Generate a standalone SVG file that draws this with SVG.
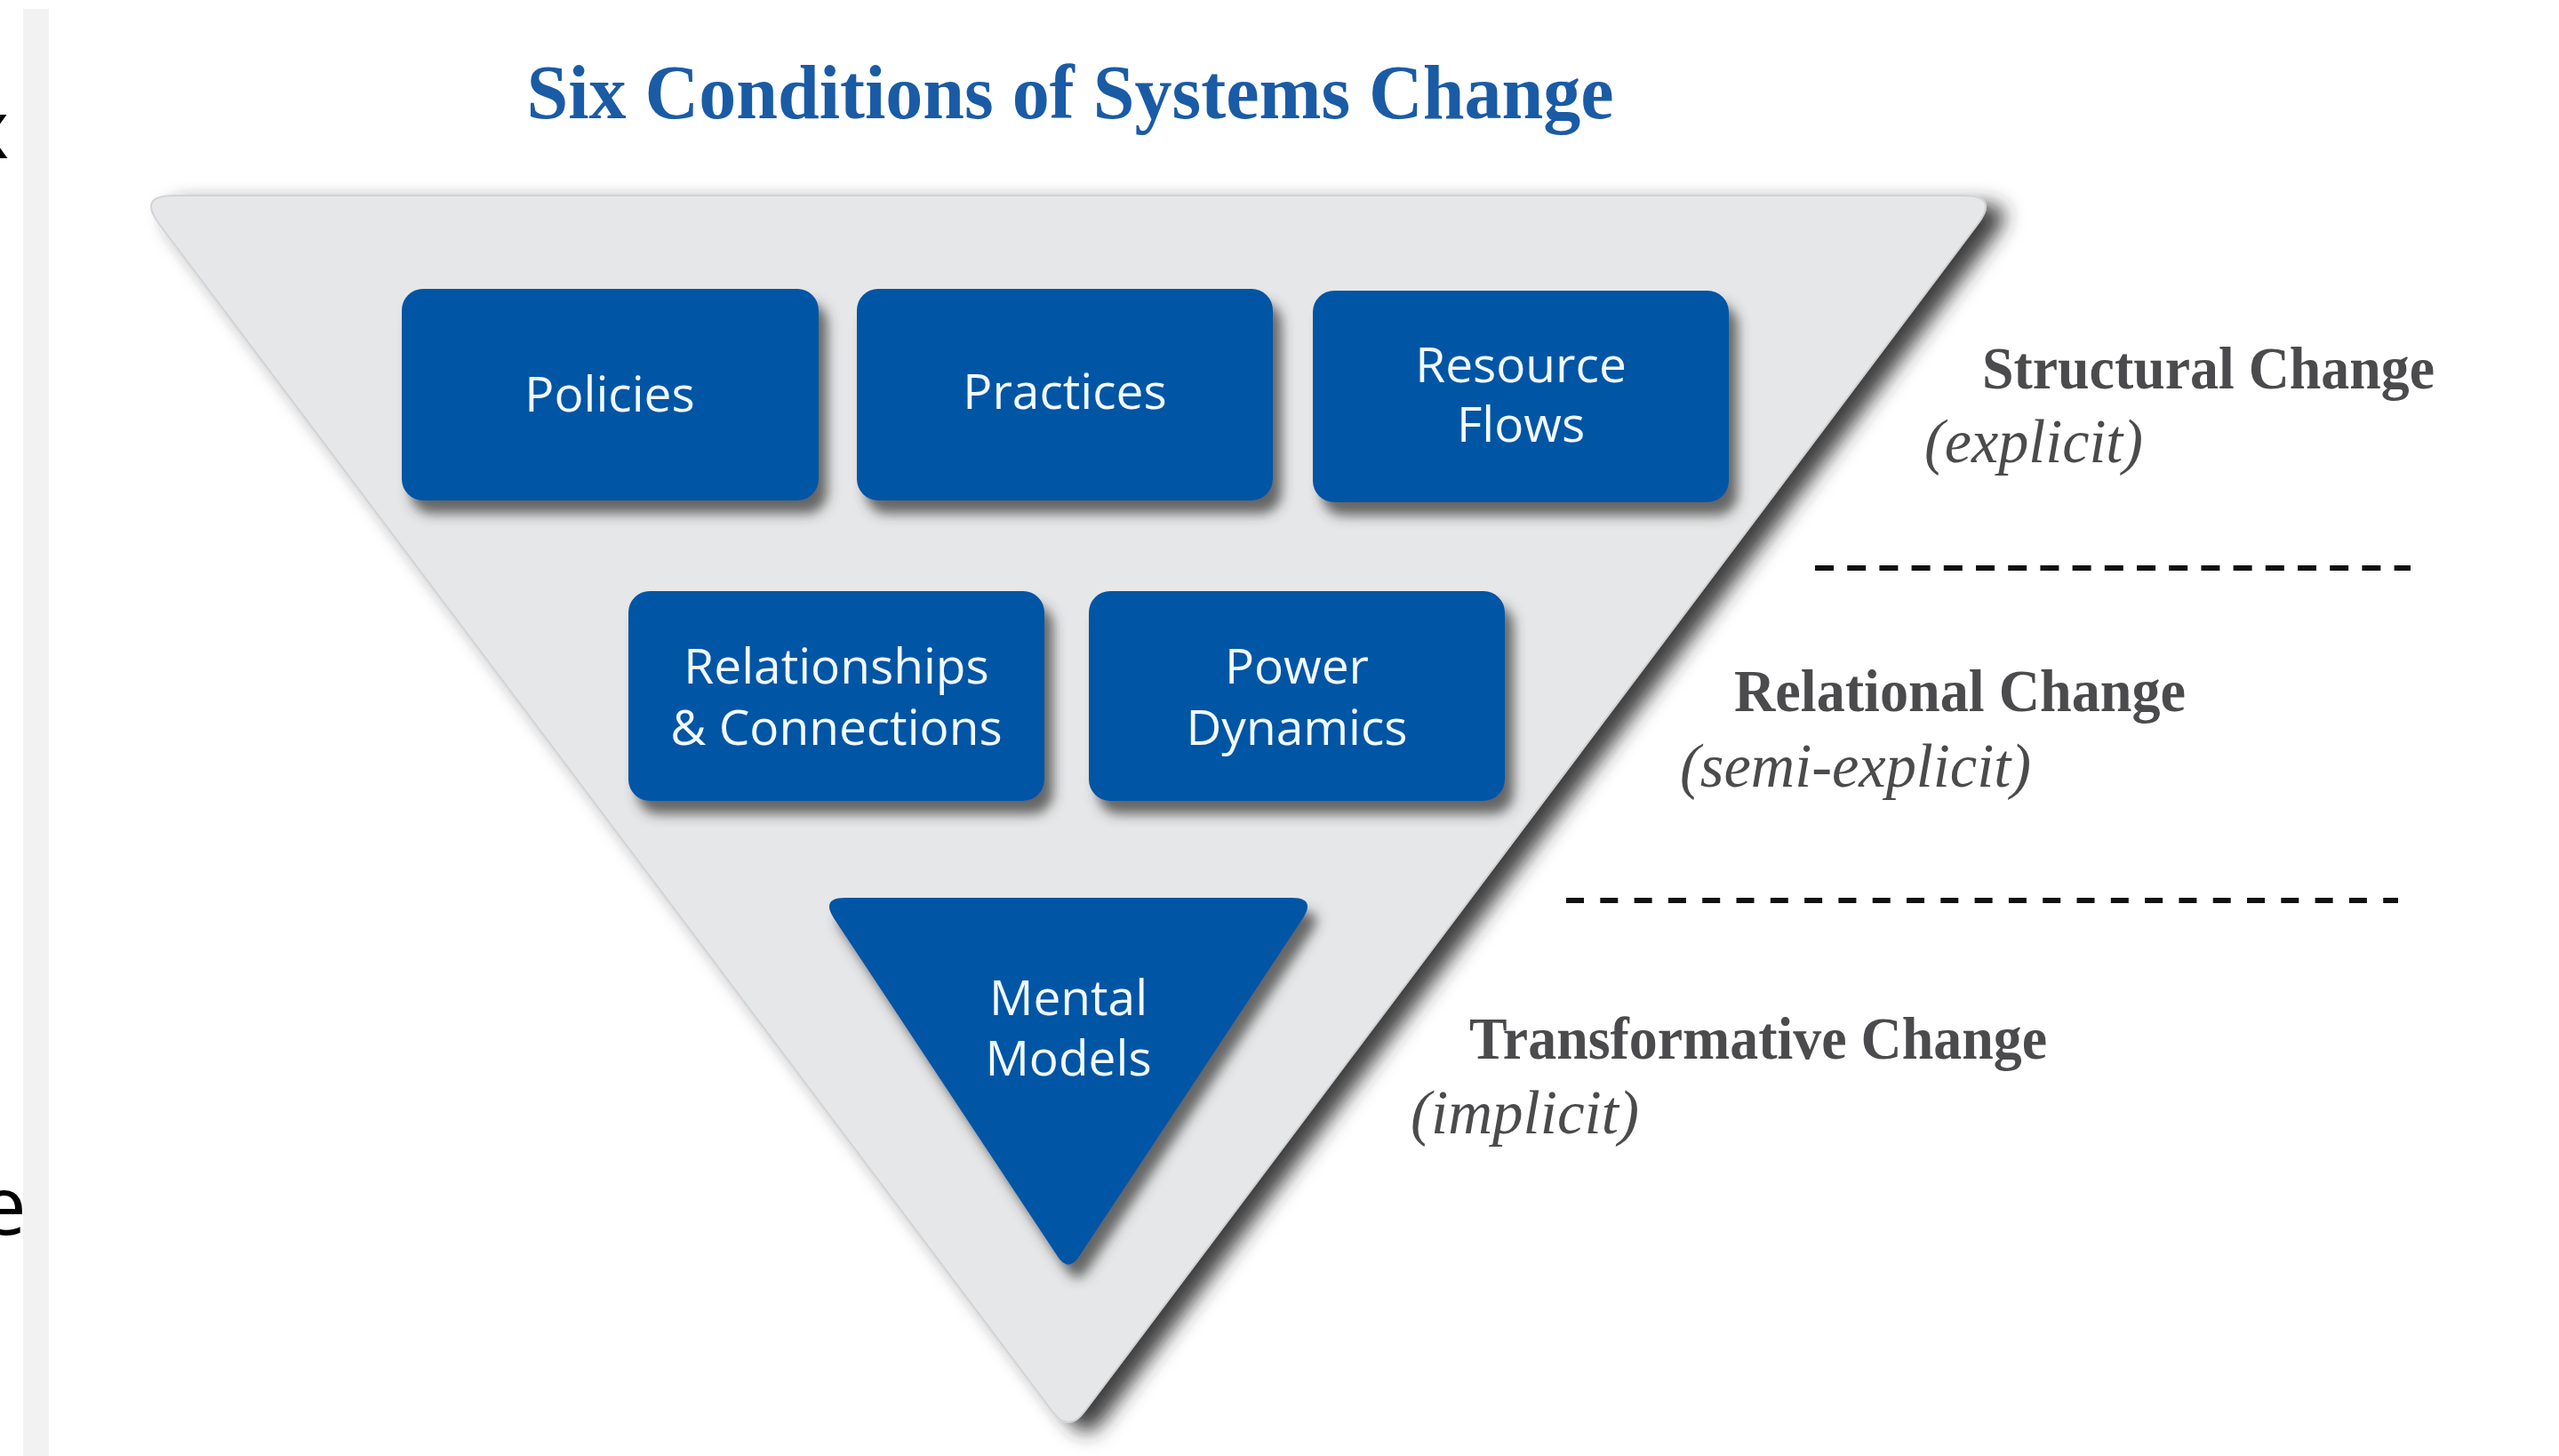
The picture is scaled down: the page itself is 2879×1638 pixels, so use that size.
<svg xmlns="http://www.w3.org/2000/svg" width="2879" height="1638" viewBox="0 0 2879 1638">
  <defs>
    <style>
      .box { fill: #0555a5; }
      .lbl { font-family: "Open Sans", "Noto Sans", "DejaVu Sans", sans-serif; font-size: 55px; fill: #f2faff; text-anchor: middle; }
      .head { font-family: "Liberation Serif", "Times New Roman", serif; font-weight: bold; font-size: 68px; fill: #4b4b4d; }
      .sub { font-family: "Liberation Serif", "Times New Roman", serif; font-style: italic; font-size: 70px; fill: #4b4b4d; }
      .dash { stroke: #111111; stroke-width: 6; fill: none; }
      .edge { font-family: "Open Sans", "Noto Sans", sans-serif; font-size: 92px; fill: #000000; }
    </style>
    <filter id="bigShadow" x="-5%" y="-5%" width="115%" height="115%">
      <feGaussianBlur in="SourceAlpha" stdDeviation="11" result="b"/>
      <feOffset in="b" dx="20" dy="10" result="o"/>
      <feFlood flood-color="#2a2a2a" flood-opacity="0.9"/>
      <feComposite in2="o" operator="in" result="s"/>
      <feMerge><feMergeNode in="s"/><feMergeNode in="SourceGraphic"/></feMerge>
    </filter>
    <filter id="boxShadow" x="-10%" y="-10%" width="125%" height="130%">
      <feGaussianBlur in="SourceAlpha" stdDeviation="7" result="b"/>
      <feOffset in="b" dx="10" dy="15" result="o"/>
      <feFlood flood-color="#3a3a3a" flood-opacity="0.75"/>
      <feComposite in2="o" operator="in" result="s"/>
      <feMerge><feMergeNode in="s"/><feMergeNode in="SourceGraphic"/></feMerge>
    </filter>
  </defs>

  <rect x="0" y="0" width="2879" height="1638" fill="#ffffff"/>

  <g id="left-edge">
    <rect x="26" y="10" width="29" height="1628" fill="#f2f2f2"/>
    <text class="edge" x="-38" y="178">x</text>
    <text class="edge" x="-22" y="1389">e</text>
  </g>

  <g id="title">
    <text x="1204" y="133" text-anchor="middle" font-family="Liberation Serif, Times New Roman, serif" font-weight="bold" font-size="86" fill="#1a5ba5" textLength="1223" lengthAdjust="spacingAndGlyphs">Six Conditions of Systems Change</text>
  </g>

  <g id="outer-triangle">
    <path d="M 195 220 L 2209 220 Q 2249 220 2225 252 L 1220 1588 Q 1202 1612 1184 1588 L 179 252 Q 155 220 195 220 Z" fill="#e6e7e8" stroke="#d2d3d5" stroke-width="2" filter="url(#bigShadow)"/>
  </g>

  <g id="node-policies">
    <rect class="box" x="452" y="325" width="469" height="238" rx="24" filter="url(#boxShadow)"/>
    <text class="lbl" x="686" y="463">Policies</text>
  </g>
  <g id="node-practices">
    <rect class="box" x="964" y="325" width="468" height="238" rx="24" filter="url(#boxShadow)"/>
    <text class="lbl" x="1198" y="460">Practices</text>
  </g>
  <g id="node-resource-flows">
    <rect class="box" x="1477" y="327" width="468" height="238" rx="24" filter="url(#boxShadow)"/>
    <text class="lbl" x="1711" y="430">Resource</text>
    <text class="lbl" x="1711" y="497">Flows</text>
  </g>
  <g id="node-relationships">
    <rect class="box" x="707" y="665" width="468" height="236" rx="24" filter="url(#boxShadow)"/>
    <text class="lbl" x="941" y="769">Relationships</text>
    <text class="lbl" x="941" y="838">&amp; Connections</text>
  </g>
  <g id="node-power-dynamics">
    <rect class="box" x="1225" y="665" width="468" height="236" rx="24" filter="url(#boxShadow)"/>
    <text class="lbl" x="1459" y="769">Power</text>
    <text class="lbl" x="1459" y="838">Dynamics</text>
  </g>
  <g id="node-mental-models">
    <path class="box" d="M 951 1010 L 1453 1010 Q 1481 1010 1465.6 1033.4 L 1214.1 1413.6 Q 1202 1432 1189.9 1413.6 L 938.4 1033.4 Q 923 1010 951 1010 Z" filter="url(#boxShadow)"/>
    <text class="lbl" x="1202" y="1142">Mental</text>
    <text class="lbl" x="1202" y="1210">Models</text>
  </g>

  <g id="level-structural">
    <text class="head" x="2230" y="437" textLength="509" lengthAdjust="spacingAndGlyphs">Structural Change</text>
    <text class="sub" x="2165" y="520" textLength="246" lengthAdjust="spacingAndGlyphs">(explicit)</text>
  </g>
  <g id="level-relational">
    <text class="head" x="1951" y="800" textLength="508" lengthAdjust="spacingAndGlyphs">Relational Change</text>
    <text class="sub" x="1890" y="885" textLength="395" lengthAdjust="spacingAndGlyphs">(semi-explicit)</text>
  </g>
  <g id="level-transformative">
    <text class="head" x="1653" y="1191" textLength="650" lengthAdjust="spacingAndGlyphs">Transformative Change</text>
    <text class="sub" x="1587" y="1275" textLength="257" lengthAdjust="spacingAndGlyphs">(implicit)</text>
  </g>

  <g id="connectors">
    <line class="dash" x1="2042" y1="639" x2="2712" y2="639" stroke-dasharray="21 15.2"/>
    <line class="dash" x1="1762" y1="1013" x2="2698" y2="1013" stroke-dasharray="20 18.3"/>
  </g>
</svg>
